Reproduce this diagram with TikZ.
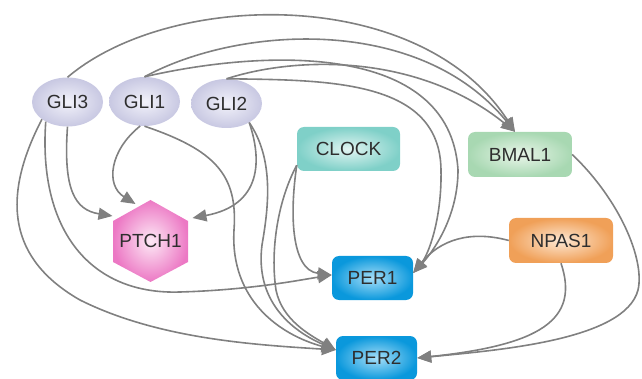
\documentclass[tikz,border=0pt]{standalone}
\usepackage{fontspec}
\setmainfont{Liberation Sans}
\usetikzlibrary{arrows.meta,shapes.geometric}
\definecolor{linegray}{HTML}{808080}
\definecolor{txt}{HTML}{2E2E2E}
\definecolor{gliin}{HTML}{F2F2FA}
\definecolor{gliout}{HTML}{C8C8E2}
\definecolor{ptchin}{HTML}{FDEAF6}
\definecolor{ptchout}{HTML}{EC78C4}
\definecolor{clockin}{HTML}{E2F5F2}
\definecolor{clockout}{HTML}{7FD0C8}
\definecolor{bmalin}{HTML}{EAF6EA}
\definecolor{bmalout}{HTML}{A8D8B2}
\definecolor{npasin}{HTML}{FDE8D4}
\definecolor{npasout}{HTML}{F0A058}
\definecolor{perin}{HTML}{A6DEF8}
\definecolor{perout}{HTML}{0A98DC}
\begin{document}
\begin{tikzpicture}[x=1pt,y=-1pt,
  lbl/.style={text=txt, font=\fontsize{19}{21}\selectfont},
  edge/.style={draw=linegray, line width=1.6pt, -{Triangle[length=14pt,width=12pt]}},
  gli/.style={ellipse, lbl, minimum width=71pt, minimum height=49pt, inner sep=0pt, inner color=gliin, outer color=gliout},
  box/.style={rectangle, lbl, rounded corners=7pt, inner sep=0pt},
  clockbox/.style={box, minimum width=103pt, minimum height=44pt, inner color=clockin, outer color=clockout},
  bmalbox/.style={box, minimum width=104pt, minimum height=45pt, inner color=bmalin, outer color=bmalout},
  npasbox/.style={box, minimum width=104pt, minimum height=45pt, inner color=npasin, outer color=npasout},
  perbox/.style={box, minimum width=81pt, minimum height=44pt, inner color=perin, outer color=perout},
  hexfill/.style={inner color=ptchin, outer color=ptchout}
]
\useasboundingbox (0,0) rectangle (642,379);

% nodes
\node[gli] (GLI3) at (67.5,102) {GLI3};
\node[gli] (GLI1) at (144.5,101.5) {GLI1};
\node[gli] (GLI2) at (226.5,103.5) {GLI2};
\node[clockbox] (CLOCK) at (348.5,149) {CLOCK};
\node[bmalbox] (BMAL1) at (520,154.5) {BMAL1};
\node[npasbox] (NPAS1) at (561,240.5) {NPAS1};
\node[perbox] (PER1) at (372.5,278) {PER1};
\node[perbox] (PER2) at (376.5,358) {PER2};
\shade[hexfill] (150.5,200) -- (188,221) -- (188,262) -- (150.5,282) -- (113,262) -- (113,221) -- cycle;
\node[lbl, inner sep=0pt] (PTCH1) at (150.5,241) {PTCH1};

% edges to BMAL1
\draw[edge] (GLI3.north) .. controls (170,-10) and (420,-15) .. ([xshift=-5pt]BMAL1.north);
\draw[edge] (GLI1.north) .. controls (240,25) and (420,15) .. ([xshift=-5pt]BMAL1.north);
\draw[edge] (GLI2.north) .. controls (300,55) and (420,55) .. ([xshift=-5pt]BMAL1.north);

% edges to PER1 from the top
\draw[edge] (GLI1.north) .. controls (260,50) and (450,40) .. (458,170) .. controls (458,220) and (430,255) .. ([yshift=5pt]PER1.east);
\draw[edge] (GLI2.north) .. controls (330,80) and (440,80) .. (441,170) .. controls (442,220) and (428,255) .. ([yshift=5pt]PER1.east);

% edges to PTCH1
\draw[edge] (GLI3.south) .. controls (63,190) and (75,210) .. ([xshift=-38pt,yshift=25pt]PTCH1.center);
\draw[edge] (GLI1.260) .. controls (110,150) and (105,185) .. ([xshift=-15pt,yshift=37pt]PTCH1.center);
\draw[edge] (GLI2.320) .. controls (262,160) and (262,205) .. ([xshift=42pt,yshift=23pt]PTCH1.center);

% edges to PER2 from the left
\draw[edge] (GLI1.south) .. controls (215,150) and (238,175) .. (234,230) .. controls (230,300) and (280,335) .. ([yshift=8pt]PER2.west);
\draw[edge] (GLI2.320) .. controls (275,160) and (268,210) .. (262,245) .. controls (255,300) and (290,330) .. ([yshift=8pt]PER2.west);
\draw[edge] ([yshift=6pt]CLOCK.south west) .. controls (278,200) and (270,250) .. (276,290) .. controls (282,320) and (310,335) .. ([yshift=8pt]PER2.west);
\draw[edge] (GLI3.214) .. controls (0,200) and (10,260) .. (80,300) .. controls (160,340) and (260,345) .. ([yshift=8pt]PER2.west);

% edges to PER1 from the left
\draw[edge] ([yshift=6pt]CLOCK.south west) .. controls (290,210) and (290,270) .. ([yshift=3pt]PER1.west);
\draw[edge] (GLI3.222) .. controls (38,230) and (90,295) .. (180,292) .. controls (250,290) and (300,280) .. ([yshift=3pt]PER1.west);

% edges from the right
\draw[edge] (NPAS1.west) .. controls (470,230) and (440,240) .. ([yshift=5pt]PER1.east);
\draw[edge] (NPAS1.south) .. controls (580,320) and (540,345) .. (PER2.east);
\draw[edge] (BMAL1.east) .. controls (620,200) and (645,260) .. (638,290) .. controls (625,340) and (500,350) .. (PER2.east);
\end{tikzpicture}
\end{document}
